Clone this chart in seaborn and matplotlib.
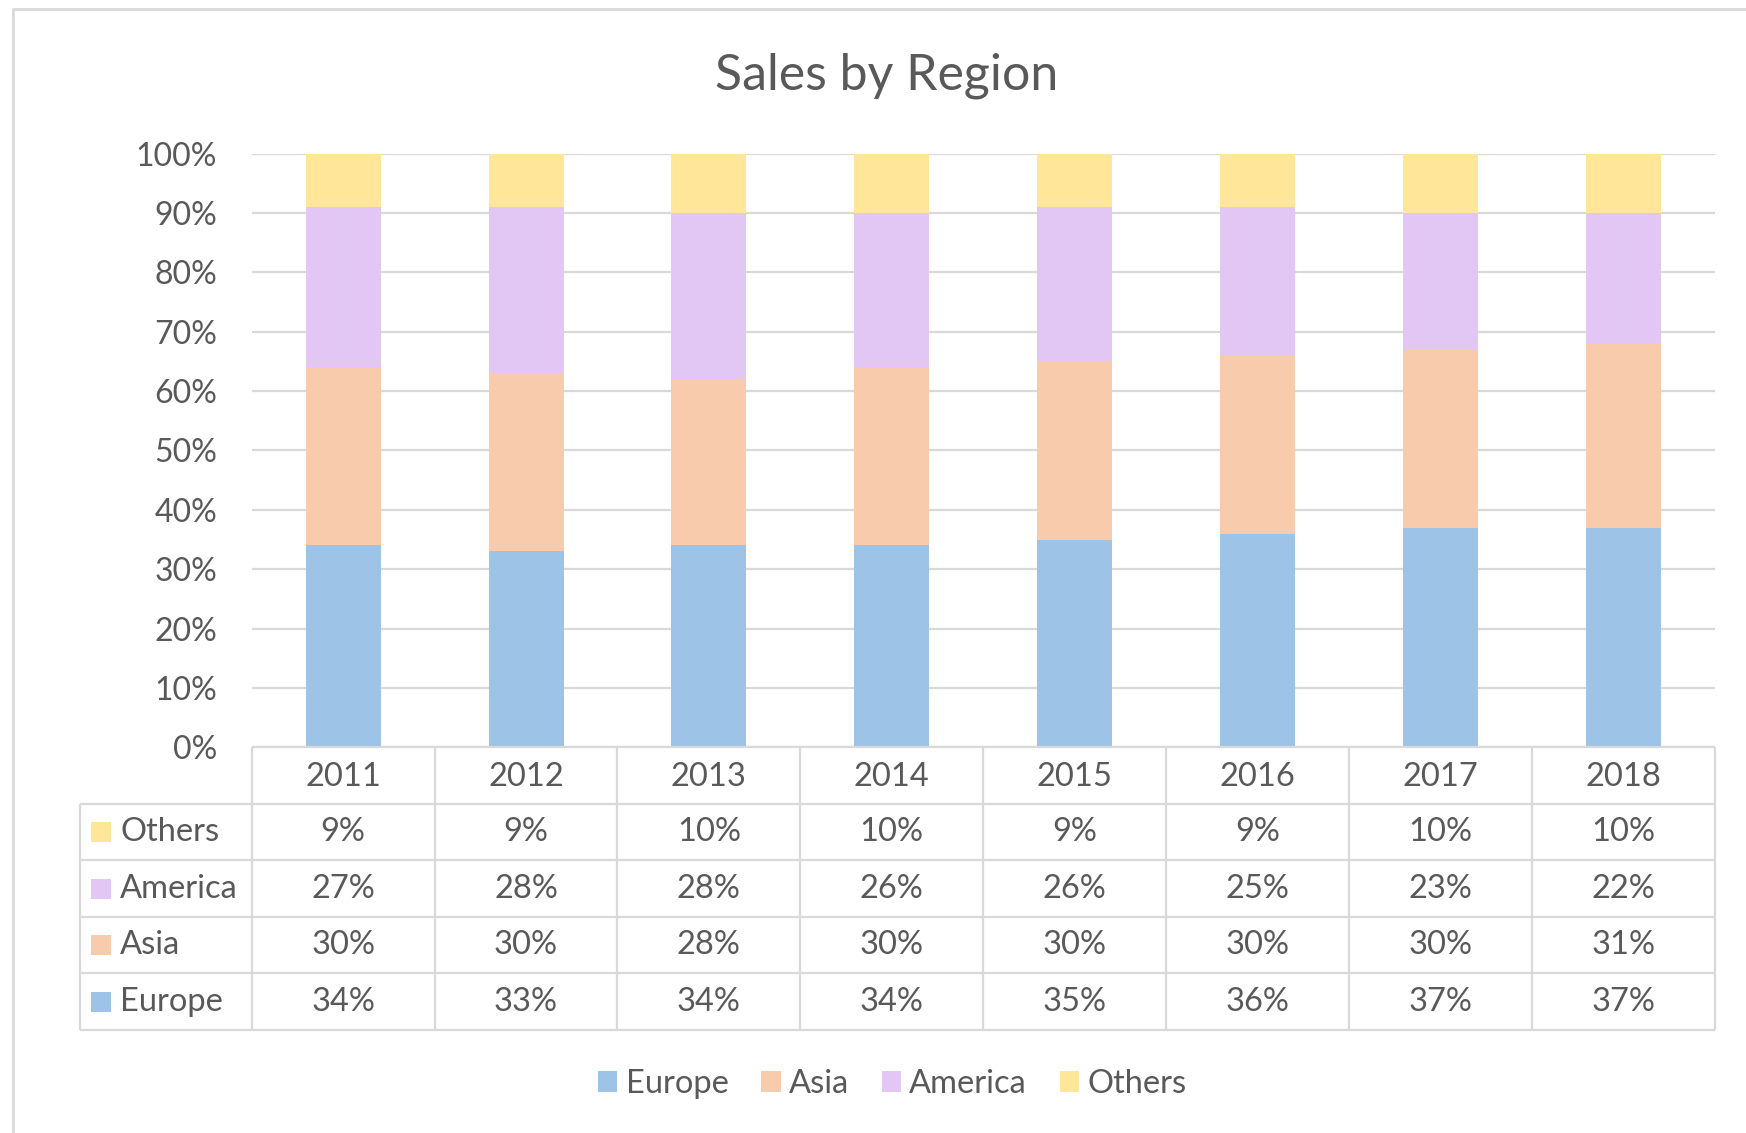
import numpy as np
import pandas as pd
import matplotlib.pyplot as plt
from matplotlib.patches import Patch, Rectangle
import seaborn as sns

# Données (parts en %)
YEARS = ["2011", "2012", "2013", "2014", "2015", "2016", "2017", "2018"]
REGIONS = ["Europe", "Asia", "America", "Others"]
EUROPE = [34, 33, 34, 34, 35, 36, 37, 37]
ASIA = [30, 30, 28, 30, 30, 30, 30, 31]
AMERICA = [27, 28, 28, 26, 26, 25, 23, 22]
OTHERS = [9, 9, 10, 10, 9, 9, 10, 10]
Y_TICKS = [0, 10, 20, 30, 40, 50, 60, 70, 80, 90, 100]

COLORS = {
    "Europe": "#9DC3E6",
    "Asia": "#F8CBAD",
    "America": "#E2C6F3",
    "Others": "#FFE699",
}
TEXT = "#595959"
GRID = "#D9D9D9"
FS = 23.5

sns.set_theme(style="white")
plt.rcParams["font.family"] = ["Lato", "DejaVu Sans"]

df = pd.DataFrame({"year": YEARS, "Europe": EUROPE, "Asia": ASIA,
                   "America": AMERICA, "Others": OTHERS})
cum = df[REGIONS].cumsum(axis=1)

fig = plt.figure(figsize=(17.46, 11.33), dpi=100)

# cadre extérieur (seulement gauche / haut visibles)
fig.add_artist(Rectangle((0.0077, -0.05), 1.1, 1.05 - 0.0079, transform=fig.transFigure,
                         fill=False, edgecolor=GRID, lw=2))

# ---------------------------------------------------------------------
# Barres empilées (superposition des cumuls)
# ---------------------------------------------------------------------
ax = fig.add_axes([0.1442, 0.3405, 0.8379, 0.5238])
for reg in reversed(REGIONS):
    sns.barplot(x=df["year"], y=cum[reg], color=COLORS[reg], width=0.41,
                saturation=1, errorbar=None, linewidth=0, ax=ax, zorder=3)

ax.set_xlim(-0.5, len(YEARS) - 0.5)
ax.set_ylim(0, 100)
ax.set_yticks(Y_TICKS)
ax.set_yticklabels([f"{v}%" for v in Y_TICKS], fontsize=23, color=TEXT)
ax.set_xticks([])
ax.set_xlabel("")
ax.set_ylabel("")
ax.tick_params(axis="y", length=0, pad=25)
ax.yaxis.grid(True, color=GRID, lw=1.6)
ax.set_axisbelow(True)
for s in ax.spines.values():
    s.set_visible(False)

fig.text(0.5076, 0.933, "Sales by Region", ha="center", va="center",
         fontsize=36, color=TEXT)

# ---------------------------------------------------------------------
# Table de données sous le graphique
# ---------------------------------------------------------------------
x0 = -1.4377
n = len(YEARS)
tax = fig.add_axes([0.0459, 0.0909, 0.9362, 0.2496])
tax.set_xlim(x0, n - 0.5)
tax.set_ylim(5, 0)
tax.axis("off")

lk = dict(color=GRID, lw=1.6, clip_on=False)
tax.hlines(0, -0.5, n - 0.5, **lk)
tax.hlines([1, 2, 3, 4, 5], x0, n - 0.5, **lk)
tax.vlines(np.arange(n + 1) - 0.5, 0, 5, **lk)
tax.vlines(x0, 1, 5, **lk)

for i, y in enumerate(YEARS):
    tax.text(i, 0.52, y, ha="center", va="center", fontsize=FS, color=TEXT)

rows = [("Others", OTHERS), ("America", AMERICA), ("Asia", ASIA), ("Europe", EUROPE)]
for r, (name, vals) in enumerate(rows, start=1):
    tax.scatter([x0 + 0.1165], [r + 0.5], marker="s", s=15 ** 2,
                color=COLORS[name], linewidths=0, clip_on=False)
    tax.text(x0 + 0.218, r + 0.5, name, ha="left", va="center", fontsize=FS, color=TEXT)
    for i, v in enumerate(vals):
        tax.text(i, r + 0.5, f"{v}%", ha="center", va="center", fontsize=FS, color=TEXT)

# ---------------------------------------------------------------------
# Légende en bas
# ---------------------------------------------------------------------
handles = [Patch(facecolor=COLORS[r], edgecolor="none", label=r) for r in REGIONS]
fig.legend(handles=handles, loc="center", bbox_to_anchor=(0.511, 0.043), ncol=4,
           frameon=False, fontsize=FS, handlelength=0.6, handleheight=0.6,
           handletextpad=0.25, columnspacing=1.0, labelcolor=TEXT)

fig.savefig("out.png", dpi=100)
plt.close(fig)
